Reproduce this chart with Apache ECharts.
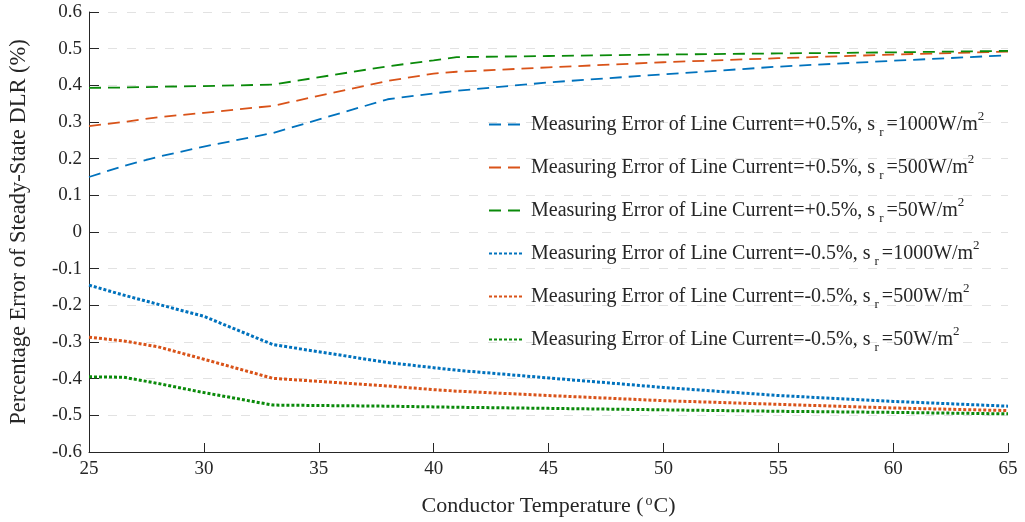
<!DOCTYPE html>
<html>
<head>
<meta charset="utf-8">
<script src="https://cdn.jsdelivr.net/npm/echarts@6/dist/echarts.min.js"></script>
<style>
  html, body { margin: 0; padding: 0; background: #fff; }
  #chart { width: 1025px; height: 522px; }
</style>
</head>
<body>
<div id="chart"></div>
<script>
  // conductor temperature (degC)
  const temps = [25, 26.5, 28, 30, 33, 38, 40, 41, 45, 50, 55, 60, 65]

  // percentage error of steady-state DLR (%)
  const plus1000 = [0.150, 0.180, 0.205, 0.233, 0.270, 0.362, 0.378, 0.385, 0.408, 0.430, 0.451, 0.467, 0.482]
  const plus500 = [0.289, 0.300, 0.313, 0.325, 0.344, 0.412, 0.432, 0.437, 0.449, 0.463, 0.474, 0.484, 0.492]
  const plus50 = [0.393, 0.394, 0.396, 0.398, 0.402, 0.452, 0.468, 0.477, 0.480, 0.484, 0.487, 0.490, 0.494]
  const minus1000 = [-0.145, -0.172, -0.197, -0.230, -0.307, -0.356, -0.370, -0.377, -0.398, -0.424, -0.446, -0.462, -0.475]
  const minus500 = [-0.287, -0.297, -0.313, -0.347, -0.399, -0.420, -0.430, -0.434, -0.446, -0.460, -0.470, -0.480, -0.487]
  const minus50 = [-0.395, -0.396, -0.413, -0.438, -0.472, -0.475, -0.477, -0.478, -0.481, -0.485, -0.489, -0.492, -0.496]

  const seriesNames = [
    'Measuring Error of Line Current=+0.5%, s{sub|r}=1000W/m{sup|2}',
    'Measuring Error of Line Current=+0.5%, s{sub|r}=500W/m{sup|2}',
    'Measuring Error of Line Current=+0.5%, s{sub|r}=50W/m{sup|2}',
    'Measuring Error of Line Current=-0.5%, s{sub|r}=1000W/m{sup|2}',
    'Measuring Error of Line Current=-0.5%, s{sub|r}=500W/m{sup|2}',
    'Measuring Error of Line Current=-0.5%, s{sub|r}=50W/m{sup|2}'
  ]
  const seriesData = [plus1000, plus500, plus50, minus1000, minus500, minus50]
  const colors = ['#0072BD', '#D95319', '#0A8A0A', '#0072BD', '#D95319', '#0A8A0A']

  const font = '"Liberation Serif", "Times New Roman", serif'
  const textColor = '#262626'

  const lineStyleFor = i => i < 3
    ? { width: 1.8, type: [12, 7], cap: 'butt' }
    : { width: 3, type: [3, 2], cap: 'butt' }

  const series = seriesData.map((vals, i) => ({
    name: seriesNames[i],
    type: 'line',
    data: temps.map((t, k) => [t, vals[k]]),
    symbol: 'none',
    color: colors[i],
    lineStyle: Object.assign({ color: colors[i] }, lineStyleFor(i)),
    z: 3
  }))

  const chart = echarts.init(document.getElementById('chart'), null, { renderer: 'canvas' })
  chart.setOption({
    animation: false,
    backgroundColor: '#fff',
    grid: { left: 87, right: 17, top: 12, bottom: 70 },
    legend: {
      orient: 'vertical',
      left: 483,
      top: 105,
      itemWidth: 34,
      itemHeight: 14,
      itemGap: 14,
      itemStyle: { opacity: 0 },
      textStyle: {
        fontFamily: font,
        fontSize: 20,
        color: textColor,
        lineHeight: 29,
        padding: [0, 0, 0, 3],
        rich: {
          sub: { fontFamily: font, fontSize: 13, color: textColor, verticalAlign: 'bottom', lineHeight: 29, padding: [0, 3, 0, 4] },
          sup: { fontFamily: font, fontSize: 13, color: textColor, verticalAlign: 'top', lineHeight: 29 }
        }
      },
      data: seriesNames
    },
    xAxis: {
      type: 'value',
      min: 25,
      max: 65,
      interval: 5,
      name: 'Conductor Temperature ({sup|o}C)',
      nameLocation: 'middle',
      nameGap: 42,
      nameTextStyle: {
        fontFamily: font,
        fontSize: 22,
        color: textColor,
        rich: { sup: { fontFamily: font, fontSize: 14, color: textColor, verticalAlign: 'top', padding: [0, 1, 10, 2] } }
      },
      axisLine: { onZero: false, lineStyle: { color: textColor, width: 1 } },
      axisTick: { inside: true, length: 9, lineStyle: { color: textColor } },
      axisLabel: { fontFamily: font, fontSize: 19, color: textColor, margin: 8 },
      splitLine: { show: false }
    },
    yAxis: {
      type: 'value',
      min: -0.6,
      max: 0.6,
      interval: 0.1,
      name: 'Percentage Error of Steady-State DLR (%)',
      nameLocation: 'middle',
      nameGap: 58,
      nameTextStyle: { fontFamily: font, fontSize: 22.5, color: textColor },
      axisLine: { show: true, onZero: false, lineStyle: { color: textColor, width: 1 } },
      axisTick: { show: true, inside: true, length: 10, lineStyle: { color: textColor } },
      axisLabel: {
        fontFamily: font,
        fontSize: 19,
        color: textColor,
        margin: 7,
        formatter: v => String(Math.round(v * 10) / 10)
      },
      splitLine: { show: true, lineStyle: { color: '#e2e2e2', type: [9, 10], width: 1 } }
    },
    series: series
  })
</script>
</body>
</html>
